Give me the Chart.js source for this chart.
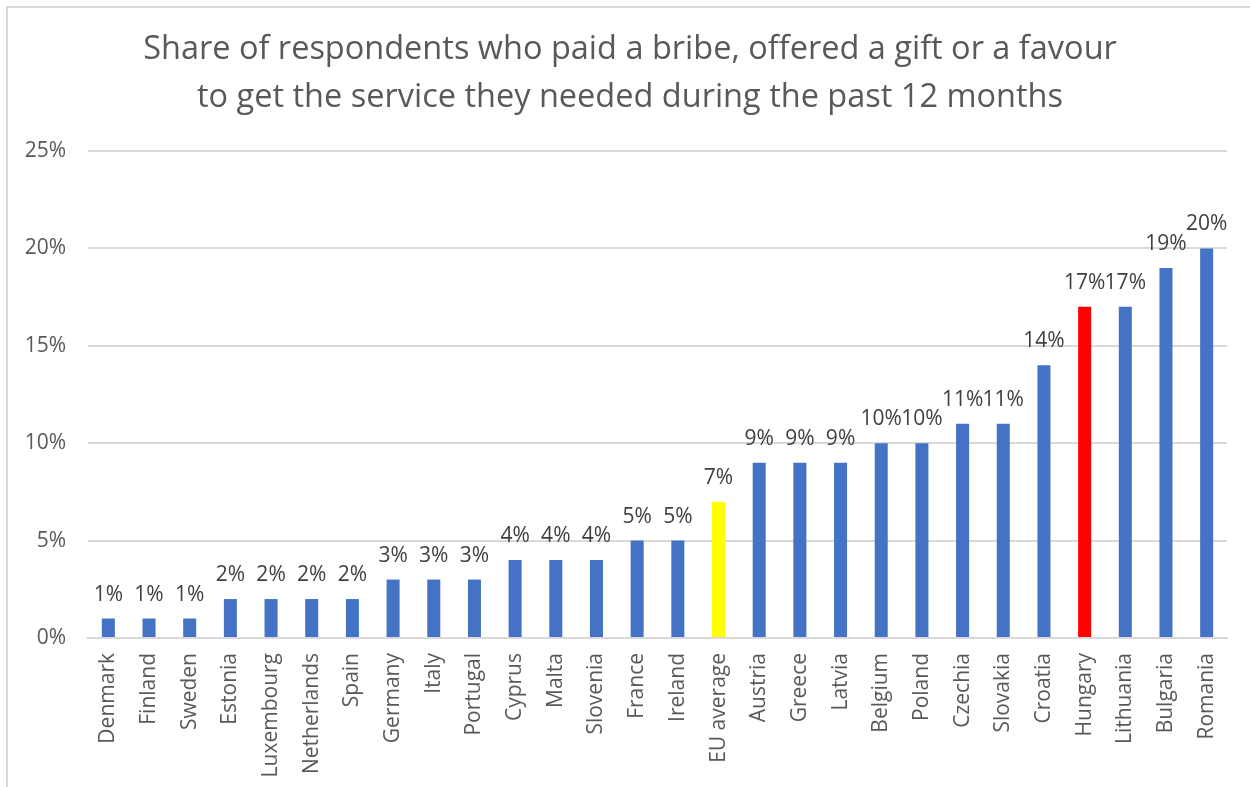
<!DOCTYPE html>
<html>
<head>
<meta charset="utf-8">
<script src="https://cdn.jsdelivr.net/npm/chart.js@4/dist/chart.umd.min.js"></script>
<style>
  html, body { margin: 0; padding: 0; background: #fff; overflow: hidden; }
  #wrap { position: relative; width: 1250px; height: 787px; }
  #frame { position: absolute; left: 6px; top: 6px; width: 1260px; height: 800px; border: 2px solid #d9d9d9; box-sizing: border-box; }
  canvas { position: absolute; left: 0; top: 0; }
</style>
</head>
<body>
<div id="wrap">
  <div id="frame"></div>
  <canvas id="myChart" width="1250" height="787"></canvas>
</div>
<script>
const countries = [
  "Denmark", "Finland", "Sweden", "Estonia", "Luxembourg", "Netherlands", "Spain",
  "Germany", "Italy", "Portugal", "Cyprus", "Malta", "Slovenia", "France", "Ireland",
  "EU average", "Austria", "Greece", "Latvia", "Belgium", "Poland", "Czechia",
  "Slovakia", "Croatia", "Hungary", "Lithuania", "Bulgaria", "Romania"
];
const shares = [1, 1, 1, 2, 2, 2, 2, 3, 3, 3, 4, 4, 4, 5, 5, 7, 9, 9, 9, 10, 10, 11, 11, 14, 17, 17, 19, 20];
const titleLines = [
  "Share of respondents who paid a bribe, offered a gift or a favour",
  "to get the service they needed during the past 12 months"
];
const yTicks = [0, 5, 10, 15, 20, 25];

const barColors = countries.map((c) =>
  c === "EU average" ? "#FFFF00" : c === "Hungary" ? "#FF0000" : "#4472C4"
);

const FONT = "'Open Sans', sans-serif";

// title drawn by hand so it can sit centred on the whole frame
const titleText = {
  id: "titleText",
  afterDraw(chart) {
    const ctx = chart.ctx;
    ctx.save();
    ctx.font = "32.5px " + FONT;
    ctx.fillStyle = "#595959";
    ctx.textAlign = "center";
    ctx.textBaseline = "middle";
    titleLines.forEach((line, i) => {
      ctx.fillText(line, 630, 50 + i * 48);
    });
    ctx.restore();
  },
};

// draws the value above each bar
const valueLabels = {
  id: "valueLabels",
  afterDatasetsDraw(chart) {
    const ctx = chart.ctx;
    const meta = chart.getDatasetMeta(0);
    ctx.save();
    ctx.font = "21px " + FONT;
    ctx.fillStyle = "#404040";
    ctx.textAlign = "center";
    ctx.textBaseline = "alphabetic";
    meta.data.forEach((bar, i) => {
      ctx.fillText(shares[i] + "%", bar.x, bar.y - 18);
    });
    ctx.restore();
  },
};

const ctx = document.getElementById("myChart").getContext("2d");
const myChart = new Chart(ctx, {
  type: "bar",
  data: {
    labels: countries,
    datasets: [
      {
        data: shares,
        backgroundColor: barColors,
        borderWidth: 0,
        barPercentage: 0.32,
        categoryPercentage: 1,
      },
    ],
  },
  options: {
    responsive: false,
    animation: false,
    layout: { padding: { left: 0, right: 23, top: 151, bottom: 0 } },
    plugins: {
      legend: { display: false },
      tooltip: { enabled: false },
      title: { display: false },
    },
    scales: {
      x: {
        grid: { display: false, drawTicks: false },
        border: { display: true, color: "#d9d9d9", width: 2 },
        ticks: {
          color: "#595959",
          font: { family: FONT, size: 21 },
          minRotation: 90,
          maxRotation: 90,
          autoSkip: false,
          padding: 15,
        },
        afterFit(scale) { scale.height = 149; },
      },
      y: {
        min: 0,
        max: 25,
        afterBuildTicks(scale) { scale.ticks = yTicks.map((v) => ({ value: v })); },
        grid: { color: "#d9d9d9", lineWidth: 2, drawTicks: false },
        border: { display: false },
        ticks: {
          color: "#595959",
          font: { family: FONT, size: 21 },
          padding: 22,
          callback: (v) => v + "%",
        },
        afterFit(scale) { scale.width = 88; },
      },
    },
  },
  plugins: [valueLabels, titleText],
});
</script>
</body>
</html>
